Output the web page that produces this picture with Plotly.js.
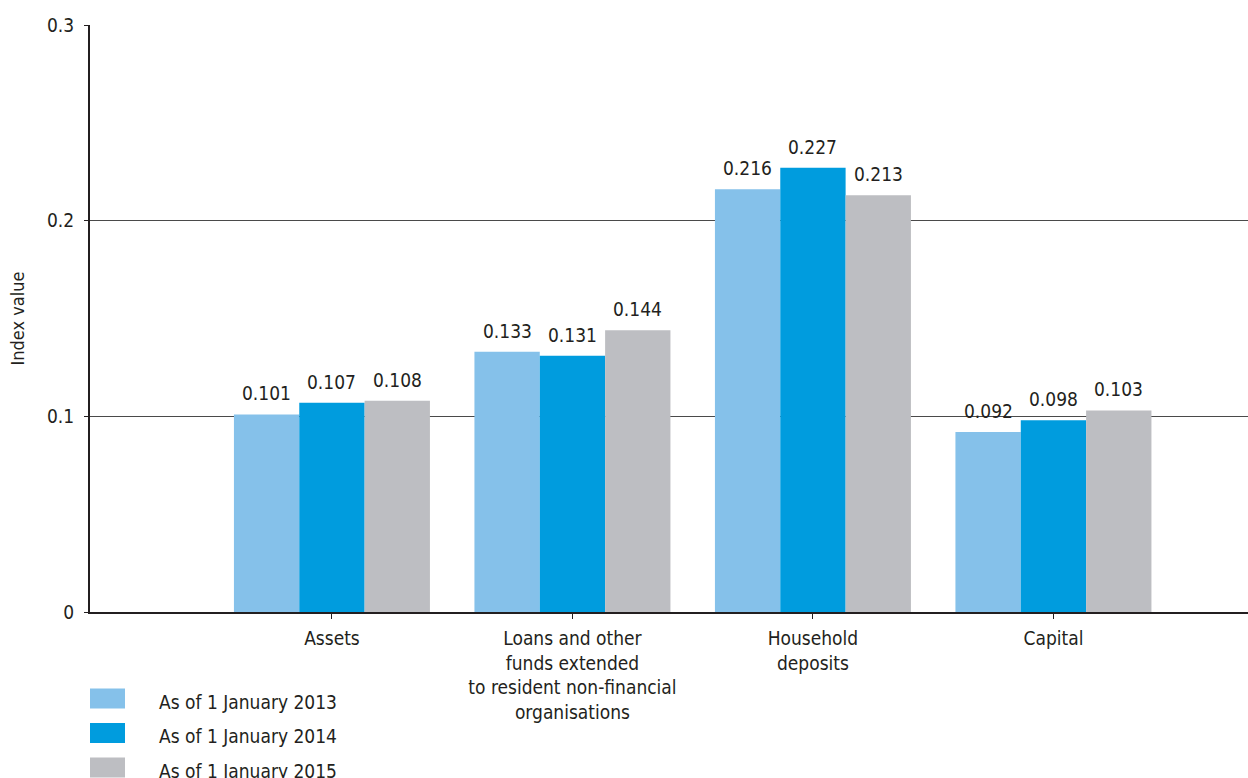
<!DOCTYPE html>
<html>
<head>
<meta charset="utf-8">
<script src="https://cdn.plot.ly/plotly-3.0.1.min.js"></script>
<style>html,body{margin:0;padding:0;background:#fff;}#chart{width:1248px;height:778px;}</style>
</head>
<body>
<div id="chart"></div>
<script>
const categories = ["Assets", "Loans and other<br>funds extended<br>to resident non-financial<br>organisations", "Household<br>deposits", "Capital"];
const seriesNames = ["As of 1 January 2013", "As of 1 January 2014", "As of 1 January 2015"];
const values2013 = [0.101, 0.133, 0.216, 0.092];
const values2014 = [0.107, 0.131, 0.227, 0.098];
const values2015 = [0.108, 0.144, 0.213, 0.103];
const colors = ["#85C1EA", "#009CDE", "#BDBEC2"];
const yTicks = [0, 0.1, 0.2, 0.3];
const yTickText = ["0", "0.1", "0.2", "0.3"];

const FONT = "'Liberation Sans Narrow', 'Arial Narrow', 'DejaVu Sans Condensed', sans-serif";
const TXT = "#231f20";
const BARGAP = 0.185;
const allValues = [values2013, values2014, values2015];
const traces = allValues.map((vals, i) => ({
  type: "bar",
  name: seriesNames[i],
  x: categories,
  y: vals,
  marker: {color: colors[i], line: {width: 0}},
  showlegend: false,
  hoverinfo: "skip"
}));

const M = {l: 90, r: 0, t: 25, b: 166};
const plotH = 778 - M.t - M.b;
const shapes = [];
const annotations = [];

// value labels above bars
const nS = allValues.length;
allValues.forEach((vals, i) => {
  vals.forEach((v, j) => {
    annotations.push({
      xref: "x", yref: "y",
      x: j + (i - (nS - 1) / 2) * (1 - BARGAP) / nS,
      y: v, yanchor: "bottom", xanchor: "center", yshift: 8,
      text: v.toFixed(3), showarrow: false,
      font: {family: FONT, size: 19, color: TXT}
    });
  });
});

// legend
seriesNames.forEach((n, i) => {
  const cy = 698.5 + i * 34.5;
  const toPaper = px => (612 - px) / plotH;
  shapes.push({type: "rect", xref: "paper", yref: "paper", x0: 0, x1: 35 / 1158,
    y0: toPaper(cy + 10), y1: toPaper(cy - 10), fillcolor: colors[i], line: {width: 0}, layer: "above"});
  annotations.push({xref: "paper", yref: "paper", x: 67 / 1158, y: toPaper(cy + 3), xanchor: "left", yanchor: "middle",
    text: n, showarrow: false, font: {family: FONT, size: 19, color: TXT}});
});

const layout = {
  width: 1248, height: 778,
  margin: M,
  paper_bgcolor: "#ffffff", plot_bgcolor: "#ffffff",
  barmode: "group",
  bargap: BARGAP, bargroupgap: 0,
  font: {family: FONT, size: 19, color: TXT},
  xaxis: {
    type: "category",
    range: [-1.006, 3.809],
    showgrid: false,
    showline: true, linecolor: TXT, linewidth: 2,
    ticks: "outside", ticklen: 5, tickcolor: TXT, tickwidth: 1,
    ticklabelstandoff: 3,
    tickfont: {family: FONT, size: 19, color: TXT},
    zeroline: false,
    automargin: false
  },
  yaxis: {
    range: [0, 0.3],
    tickvals: yTicks, ticktext: yTickText,
    showgrid: true, gridcolor: "#4a4a4a", gridwidth: 1,
    showline: true, linecolor: TXT, linewidth: 2,
    ticks: "outside", ticklen: 4, tickcolor: TXT,
    ticklabelstandoff: 6,
    tickfont: {family: FONT, size: 19, color: TXT},
    zeroline: false,
    title: {text: "Index value", font: {family: FONT, size: 18, color: TXT}, standoff: 18},
    automargin: false
  },
  shapes: shapes,
  annotations: annotations
};

Plotly.newPlot("chart", traces, layout, {displayModeBar: false, staticPlot: true});
</script>
</body>
</html>
